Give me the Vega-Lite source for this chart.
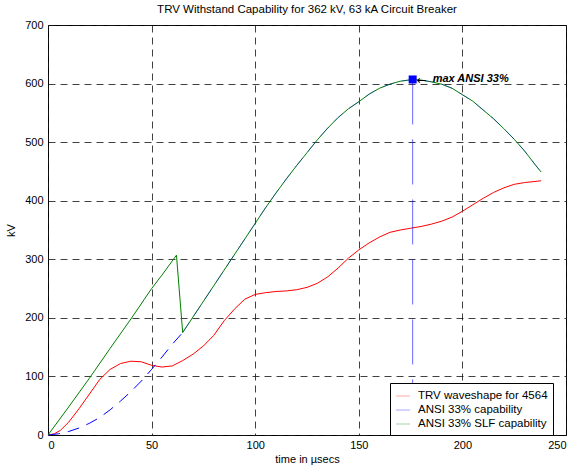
{
  "$schema": "https://vega.github.io/schema/vega-lite/v6.json",
  "width": 518,
  "height": 410,
  "autosize": {"type": "none"},
  "padding": {"left": 48, "top": 25, "right": 8, "bottom": 34},
  "background": "white",
  "config": {
    "view": {"stroke": "black", "strokeWidth": 1},
    "font": "Liberation Sans",
    "axis": {
      "labelFont": "Liberation Sans", "labelFontSize": 11, "labelColor": "black",
      "titleFont": "Liberation Sans", "titleFontSize": 11, "titleFontWeight": "normal", "titleColor": "black",
      "domain": false, "ticks": false,
      "grid": true, "gridColor": "#111", "gridDash": [7, 5], "gridOpacity": 0.8, "gridWidth": 1
    }
  },
  "title": {
    "text": "TRV Withstand Capability for 362 kV, 63 kA Circuit Breaker",
    "font": "Liberation Sans", "fontSize": 11.5, "fontWeight": "normal",
    "color": "black", "anchor": "middle", "offset": 4
  },
  "datasets": {
    "trv": [
      {"t": 0, "kv": 0, "series": "TRV waveshape for 4564"},
      {"t": 3, "kv": 2, "series": "TRV waveshape for 4564"},
      {"t": 6, "kv": 8, "series": "TRV waveshape for 4564"},
      {"t": 10, "kv": 22, "series": "TRV waveshape for 4564"},
      {"t": 15, "kv": 45, "series": "TRV waveshape for 4564"},
      {"t": 20, "kv": 70, "series": "TRV waveshape for 4564"},
      {"t": 25, "kv": 95, "series": "TRV waveshape for 4564"},
      {"t": 30, "kv": 112, "series": "TRV waveshape for 4564"},
      {"t": 35, "kv": 122, "series": "TRV waveshape for 4564"},
      {"t": 40, "kv": 126, "series": "TRV waveshape for 4564"},
      {"t": 45, "kv": 125, "series": "TRV waveshape for 4564"},
      {"t": 50, "kv": 119, "series": "TRV waveshape for 4564"},
      {"t": 55, "kv": 116, "series": "TRV waveshape for 4564"},
      {"t": 60, "kv": 118, "series": "TRV waveshape for 4564"},
      {"t": 65, "kv": 127, "series": "TRV waveshape for 4564"},
      {"t": 70, "kv": 138, "series": "TRV waveshape for 4564"},
      {"t": 75, "kv": 152, "series": "TRV waveshape for 4564"},
      {"t": 80, "kv": 170, "series": "TRV waveshape for 4564"},
      {"t": 85, "kv": 195, "series": "TRV waveshape for 4564"},
      {"t": 90, "kv": 215, "series": "TRV waveshape for 4564"},
      {"t": 95, "kv": 232, "series": "TRV waveshape for 4564"},
      {"t": 100, "kv": 240, "series": "TRV waveshape for 4564"},
      {"t": 105, "kv": 243, "series": "TRV waveshape for 4564"},
      {"t": 110, "kv": 245, "series": "TRV waveshape for 4564"},
      {"t": 115, "kv": 246, "series": "TRV waveshape for 4564"},
      {"t": 120, "kv": 248, "series": "TRV waveshape for 4564"},
      {"t": 125, "kv": 252, "series": "TRV waveshape for 4564"},
      {"t": 130, "kv": 259, "series": "TRV waveshape for 4564"},
      {"t": 135, "kv": 270, "series": "TRV waveshape for 4564"},
      {"t": 140, "kv": 285, "series": "TRV waveshape for 4564"},
      {"t": 145, "kv": 302, "series": "TRV waveshape for 4564"},
      {"t": 150, "kv": 316, "series": "TRV waveshape for 4564"},
      {"t": 155, "kv": 328, "series": "TRV waveshape for 4564"},
      {"t": 160, "kv": 338, "series": "TRV waveshape for 4564"},
      {"t": 165, "kv": 346, "series": "TRV waveshape for 4564"},
      {"t": 170, "kv": 350, "series": "TRV waveshape for 4564"},
      {"t": 175, "kv": 353, "series": "TRV waveshape for 4564"},
      {"t": 180, "kv": 356, "series": "TRV waveshape for 4564"},
      {"t": 185, "kv": 360, "series": "TRV waveshape for 4564"},
      {"t": 190, "kv": 365, "series": "TRV waveshape for 4564"},
      {"t": 195, "kv": 372, "series": "TRV waveshape for 4564"},
      {"t": 200, "kv": 382, "series": "TRV waveshape for 4564"},
      {"t": 205, "kv": 393, "series": "TRV waveshape for 4564"},
      {"t": 210, "kv": 404, "series": "TRV waveshape for 4564"},
      {"t": 215, "kv": 414, "series": "TRV waveshape for 4564"},
      {"t": 220, "kv": 422, "series": "TRV waveshape for 4564"},
      {"t": 225, "kv": 428, "series": "TRV waveshape for 4564"},
      {"t": 230, "kv": 431, "series": "TRV waveshape for 4564"},
      {"t": 238, "kv": 434, "series": "TRV waveshape for 4564"}
    ],
    "ansi": [
      {"t": 0, "kv": 0, "series": "ANSI 33% capability"},
      {"t": 5, "kv": 2, "series": "ANSI 33% capability"},
      {"t": 10, "kv": 6, "series": "ANSI 33% capability"},
      {"t": 15, "kv": 12, "series": "ANSI 33% capability"},
      {"t": 20, "kv": 20, "series": "ANSI 33% capability"},
      {"t": 25, "kv": 30, "series": "ANSI 33% capability"},
      {"t": 30, "kv": 43, "series": "ANSI 33% capability"},
      {"t": 35, "kv": 58, "series": "ANSI 33% capability"},
      {"t": 40, "kv": 74, "series": "ANSI 33% capability"},
      {"t": 45, "kv": 92, "series": "ANSI 33% capability"},
      {"t": 50, "kv": 112, "series": "ANSI 33% capability"},
      {"t": 55, "kv": 133, "series": "ANSI 33% capability"},
      {"t": 60, "kv": 155, "series": "ANSI 33% capability"},
      {"t": 65, "kv": 175, "series": "ANSI 33% capability"}
    ],
    "ansi_upper": [
      {"t": 65, "kv": 175, "series": "ANSI 33% capability"},
      {"t": 105, "kv": 388, "series": "ANSI 33% capability"},
      {"t": 110, "kv": 413, "series": "ANSI 33% capability"},
      {"t": 115, "kv": 437, "series": "ANSI 33% capability"},
      {"t": 120, "kv": 460, "series": "ANSI 33% capability"},
      {"t": 125, "kv": 482, "series": "ANSI 33% capability"},
      {"t": 130, "kv": 504, "series": "ANSI 33% capability"},
      {"t": 135, "kv": 524, "series": "ANSI 33% capability"},
      {"t": 140, "kv": 542, "series": "ANSI 33% capability"},
      {"t": 145, "kv": 557, "series": "ANSI 33% capability"},
      {"t": 150, "kv": 569, "series": "ANSI 33% capability"},
      {"t": 155, "kv": 582, "series": "ANSI 33% capability"},
      {"t": 160, "kv": 592, "series": "ANSI 33% capability"},
      {"t": 165, "kv": 599, "series": "ANSI 33% capability"},
      {"t": 170, "kv": 604, "series": "ANSI 33% capability"},
      {"t": 176, "kv": 607, "series": "ANSI 33% capability"},
      {"t": 180, "kv": 606, "series": "ANSI 33% capability"},
      {"t": 185, "kv": 603, "series": "ANSI 33% capability"},
      {"t": 190, "kv": 599, "series": "ANSI 33% capability"},
      {"t": 195, "kv": 592, "series": "ANSI 33% capability"},
      {"t": 200, "kv": 581, "series": "ANSI 33% capability"},
      {"t": 205, "kv": 570, "series": "ANSI 33% capability"},
      {"t": 210, "kv": 555, "series": "ANSI 33% capability"},
      {"t": 215, "kv": 540, "series": "ANSI 33% capability"},
      {"t": 220, "kv": 523, "series": "ANSI 33% capability"},
      {"t": 225, "kv": 505, "series": "ANSI 33% capability"},
      {"t": 230, "kv": 485, "series": "ANSI 33% capability"},
      {"t": 235, "kv": 462, "series": "ANSI 33% capability"},
      {"t": 238, "kv": 449, "series": "ANSI 33% capability"}
    ],
    "vert": [
      {"t": 176, "kv": 607, "series": "ANSI 33% capability"},
      {"t": 176, "kv": 0, "series": "ANSI 33% capability"}
    ],
    "slf": [
      {"t": 0, "kv": 0, "series": "ANSI 33% SLF capability"},
      {"t": 10, "kv": 48, "series": "ANSI 33% SLF capability"},
      {"t": 20, "kv": 97, "series": "ANSI 33% SLF capability"},
      {"t": 30, "kv": 148, "series": "ANSI 33% SLF capability"},
      {"t": 40, "kv": 198, "series": "ANSI 33% SLF capability"},
      {"t": 50, "kv": 250, "series": "ANSI 33% SLF capability"},
      {"t": 55, "kv": 273, "series": "ANSI 33% SLF capability"},
      {"t": 62, "kv": 307, "series": "ANSI 33% SLF capability"},
      {"t": 65, "kv": 175, "series": "ANSI 33% SLF capability"},
      {"t": 105, "kv": 388, "series": "ANSI 33% SLF capability"},
      {"t": 110, "kv": 413, "series": "ANSI 33% SLF capability"},
      {"t": 115, "kv": 437, "series": "ANSI 33% SLF capability"},
      {"t": 120, "kv": 460, "series": "ANSI 33% SLF capability"},
      {"t": 125, "kv": 482, "series": "ANSI 33% SLF capability"},
      {"t": 130, "kv": 504, "series": "ANSI 33% SLF capability"},
      {"t": 135, "kv": 524, "series": "ANSI 33% SLF capability"},
      {"t": 140, "kv": 542, "series": "ANSI 33% SLF capability"},
      {"t": 145, "kv": 557, "series": "ANSI 33% SLF capability"},
      {"t": 150, "kv": 569, "series": "ANSI 33% SLF capability"},
      {"t": 155, "kv": 582, "series": "ANSI 33% SLF capability"},
      {"t": 160, "kv": 592, "series": "ANSI 33% SLF capability"},
      {"t": 165, "kv": 599, "series": "ANSI 33% SLF capability"},
      {"t": 170, "kv": 604, "series": "ANSI 33% SLF capability"},
      {"t": 176, "kv": 607, "series": "ANSI 33% SLF capability"},
      {"t": 180, "kv": 606, "series": "ANSI 33% SLF capability"},
      {"t": 185, "kv": 603, "series": "ANSI 33% SLF capability"},
      {"t": 190, "kv": 599, "series": "ANSI 33% SLF capability"},
      {"t": 195, "kv": 592, "series": "ANSI 33% SLF capability"},
      {"t": 200, "kv": 581, "series": "ANSI 33% SLF capability"},
      {"t": 205, "kv": 570, "series": "ANSI 33% SLF capability"},
      {"t": 210, "kv": 555, "series": "ANSI 33% SLF capability"},
      {"t": 215, "kv": 540, "series": "ANSI 33% SLF capability"},
      {"t": 220, "kv": 523, "series": "ANSI 33% SLF capability"},
      {"t": 225, "kv": 505, "series": "ANSI 33% SLF capability"},
      {"t": 230, "kv": 485, "series": "ANSI 33% SLF capability"},
      {"t": 235, "kv": 462, "series": "ANSI 33% SLF capability"},
      {"t": 238, "kv": 449, "series": "ANSI 33% SLF capability"}
    ],
    "peak": [
      {"t": 176, "kv": 607, "label": "max ANSI 33%", "arrow": "←"}
    ]
  },
  "encoding": {
    "x": {
      "field": "t", "type": "quantitative",
      "scale": {"domain": [0, 250], "nice": false},
      "axis": {"values": [0, 50, 100, 150, 200, 250], "title": "time in µsecs", "labelPadding": 4, "titlePadding": 3}
    },
    "y": {
      "field": "kv", "type": "quantitative",
      "scale": {"domain": [0, 700], "nice": false},
      "axis": {"values": [0, 100, 200, 300, 400, 500, 600, 700], "title": "kV", "labelPadding": 5, "titlePadding": 8}
    }
  },
  "layer": [
    {
      "data": {"name": "trv"},
      "mark": {"type": "line", "strokeWidth": 1},
      "encoding": {
        "color": {
          "field": "series", "type": "nominal",
          "scale": {
            "domain": ["TRV waveshape for 4564", "ANSI 33% capability", "ANSI 33% SLF capability"],
            "range": ["#ff0000", "#0000ff", "#008000"]
          },
          "legend": {
            "title": null, "orient": "none", "legendX": 342, "legendY": 358,
            "direction": "vertical",
            "strokeColor": "black", "fillColor": "white", "padding": 5,
            "labelFont": "Liberation Sans", "labelFontSize": 11.5, "labelColor": "black",
            "symbolType": "stroke", "symbolSize": 200, "symbolStrokeWidth": 1,
            "symbolOpacity": 1, "symbolDash": [1, 0], "rowPadding": 0, "labelOffset": 7
          }
        }
      }
    },
    {
      "data": {"name": "ansi"},
      "mark": {"type": "line", "strokeWidth": 1, "strokeDash": [12, 8]},
      "encoding": {"color": {"field": "series", "type": "nominal"}}
    },
    {
      "data": {"name": "slf"},
      "mark": {"type": "line", "strokeWidth": 1},
      "encoding": {"color": {"field": "series", "type": "nominal"}}
    },
    {
      "data": {"name": "ansi_upper"},
      "mark": {"type": "line", "strokeWidth": 1, "strokeDash": [12, 8], "opacity": 0.35},
      "encoding": {"color": {"field": "series", "type": "nominal"}}
    },
    {
      "data": {"name": "vert"},
      "mark": {"type": "line", "strokeWidth": 1, "strokeDash": [45, 15], "opacity": 0.6},
      "encoding": {"color": {"field": "series", "type": "nominal"}}
    },
    {
      "data": {"name": "peak"},
      "mark": {"type": "square", "size": 64, "filled": true, "color": "#0000ff", "opacity": 1},
      "encoding": {}
    },
    {
      "data": {"name": "peak"},
      "mark": {"type": "text", "align": "left", "baseline": "middle", "dx": 4, "dy": 1, "font": "DejaVu Sans", "fontSize": 12, "color": "black"},
      "encoding": {"text": {"field": "arrow"}}
    },
    {
      "data": {"name": "peak"},
      "mark": {"type": "text", "align": "left", "baseline": "middle", "dx": 20, "font": "Liberation Sans", "fontSize": 11, "fontWeight": "bold", "fontStyle": "italic", "color": "black"},
      "encoding": {"text": {"field": "label"}}
    }
  ]
}
